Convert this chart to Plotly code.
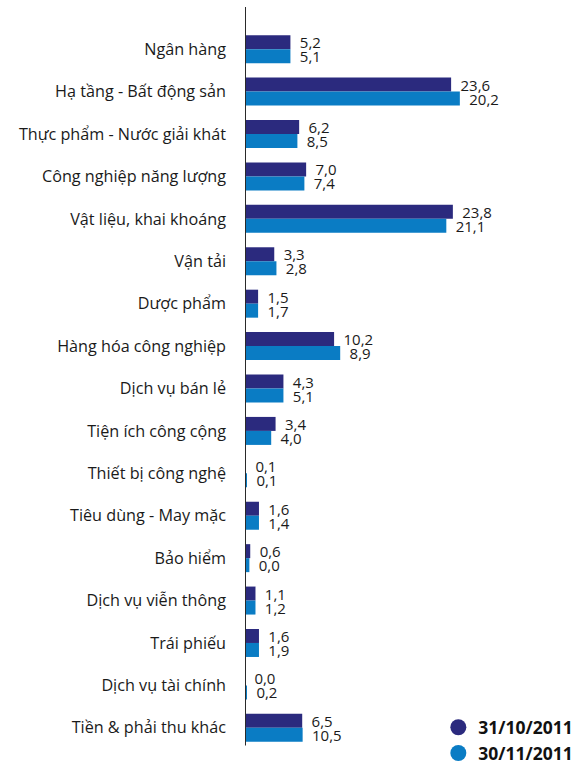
import plotly.graph_objects as go

categories = [
    "Ngân hàng", "Hạ tầng - Bất động sản", "Thực phẩm - Nước giải khát",
    "Công nghiệp năng lượng", "Vật liệu, khai khoáng", "Vận tải", "Dược phẩm",
    "Hàng hóa công nghiệp", "Dịch vụ bán lẻ", "Tiện ích công cộng",
    "Thiết bị công nghệ", "Tiêu dùng - May mặc", "Bảo hiểm",
    "Dịch vụ viễn thông", "Trái phiếu", "Dịch vụ tài chính", "Tiền & phải thu khác",
]
# bar lengths as drawn in the picture
oct_bars = [5.2, 23.6, 6.2, 7.0, 23.8, 3.35, 1.5, 10.2, 4.4, 3.5, 0.1, 1.6, 0.6, 1.2, 1.6, 0.0, 6.55]
nov_bars = [5.2, 24.6, 6.0, 6.8, 23.05, 3.6, 1.5, 10.9, 4.4, 3.0, 0.15, 1.6, 0.5, 1.2, 1.6, 0.2, 6.6]
# value labels as printed in the picture
oct_labels = [5.2, 23.6, 6.2, 7.0, 23.8, 3.3, 1.5, 10.2, 4.3, 3.4, 0.1, 1.6, 0.6, 1.1, 1.6, 0.0, 6.5]
nov_labels = [5.1, 20.2, 8.5, 7.4, 21.1, 2.8, 1.7, 8.9, 5.1, 4.0, 0.1, 1.4, 0.0, 1.2, 1.9, 0.2, 10.5]
series_names = ["31/10/2011", "30/11/2011"]
colors = ["#2B2A7E", "#0A7CC4"]

def fmt(v):
    return "\u00a0\u2009" + f"{v:.1f}".replace(".", ",")

fig = go.Figure()
for name, vals, labs, col in zip(series_names, [oct_bars, nov_bars], [oct_labels, nov_labels], colors):
    fig.add_trace(go.Bar(
        y=categories, x=vals, orientation="h", name=name,
        marker=dict(color=col, line=dict(width=0)),
        text=[fmt(v) for v in labs], textposition="outside", constraintext="none",
        textfont=dict(size=15, color="#1a1a1a", family="Open Sans"),
        cliponaxis=False, showlegend=False,
    ))
for name, col in zip(series_names, colors):
    fig.add_trace(go.Scatter(
        x=[None], y=[None], mode="markers", name=name,
        marker=dict(color=col, size=18, symbol="circle"),
    ))

fig.add_shape(type="line", xref="x", yref="paper", x0=0, x1=0, y0=0.005, y1=1.029,
              line=dict(color="#2a2a2a", width=2))

fig.update_layout(
    width=583, height=765,
    margin=dict(l=245, r=0, t=28, b=16, autoexpand=False),
    paper_bgcolor="white", plot_bgcolor="white",
    barmode="group", bargap=0.34, bargroupgap=0,
    font=dict(family="Open Sans", size=16, color="#1a1a1a"),
    xaxis=dict(range=[0, 38.7], visible=False, fixedrange=True),
    yaxis=dict(autorange="reversed", showline=False, showgrid=False, ticks="",
               ticklabelstandoff=18, tickfont=dict(size=16.2, family="Open Sans", color="#1a1a1a")),
    legend=dict(x=0.992, xanchor="right", xref="container", y=-0.031, yanchor="bottom", yref="paper",
                font=dict(size=17.5, family="Open Sans", color="#111", weight="bold"),
                tracegroupgap=0, bgcolor="rgba(0,0,0,0)"),
)

fig.write_html("out.html")
